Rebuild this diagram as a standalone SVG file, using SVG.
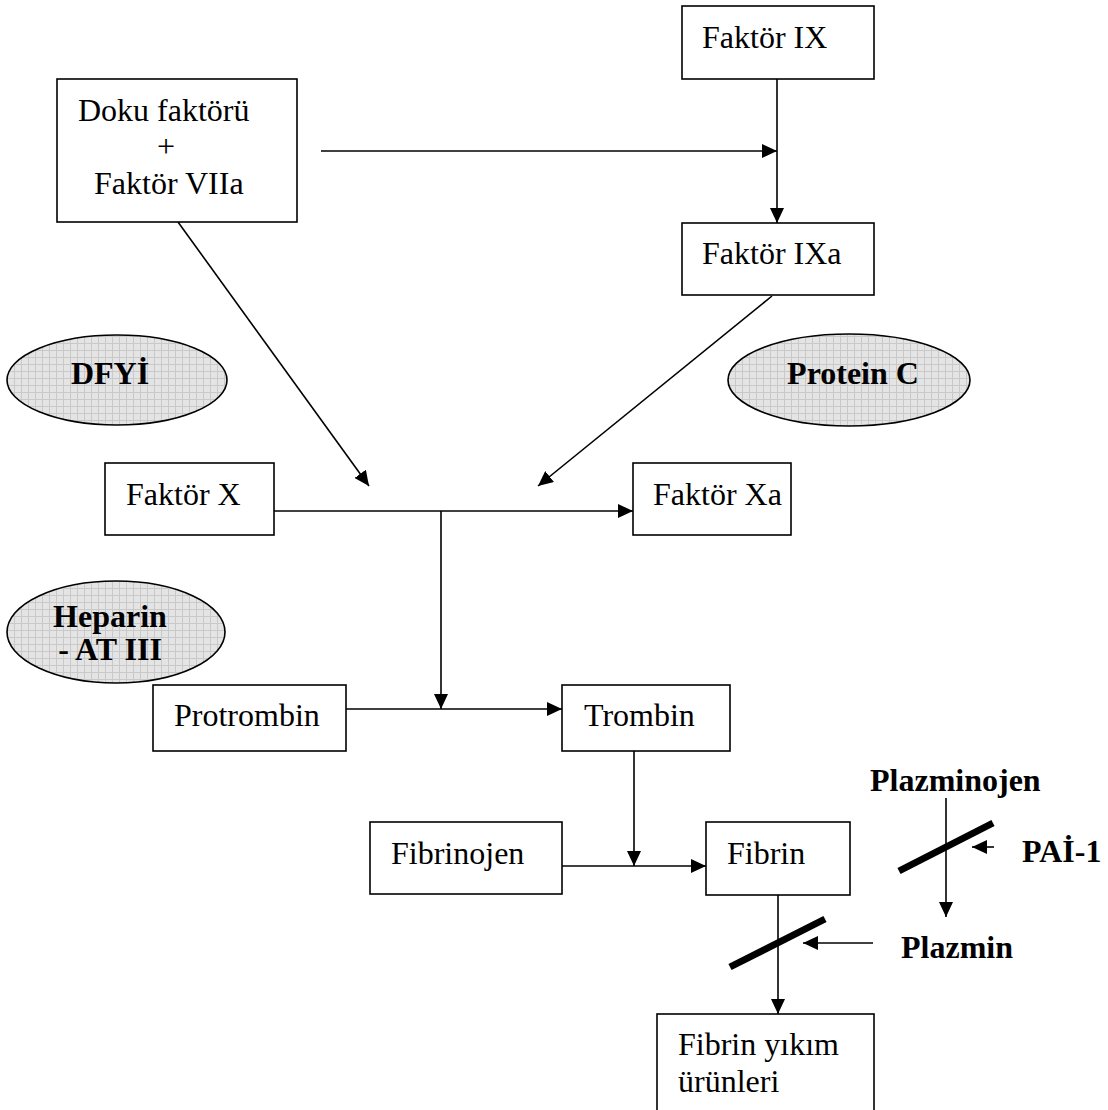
<svg xmlns="http://www.w3.org/2000/svg" width="1108" height="1110" viewBox="0 0 1108 1110">
<defs>
<pattern id="grid" width="7" height="7" patternUnits="userSpaceOnUse">
<rect width="7" height="7" fill="#e4e4e4"/>
<path d="M0,0.5 H7 M0.5,0 V7" stroke="#c9c9c9" stroke-width="1"/>
</pattern>
<marker id="ah" markerUnits="userSpaceOnUse" markerWidth="16" markerHeight="14" refX="15" refY="7" orient="auto">
<path d="M0,0 L15,7 L0,14 z" fill="#000"/>
</marker>
</defs>
<style>
.box{fill:#fff;stroke:#000;stroke-width:1.6}
.t{font-family:"Liberation Serif","Times New Roman",serif;font-size:32px;fill:#000}
.b{font-weight:bold}
.ell{fill:url(#grid);stroke:#000;stroke-width:1.6}
.arr{fill:none;stroke:#000;stroke-width:1.6;marker-end:url(#ah)}
.bar{stroke:#000;stroke-width:7}
</style>
<g id="connectors">
<line class="arr" x1="321" y1="151" x2="777" y2="151"/>
<line class="arr" x1="777" y1="79" x2="777" y2="223"/>
<line class="arr" x1="178" y1="222" x2="369" y2="486"/>
<line class="arr" x1="772" y1="296" x2="538" y2="486"/>
<line class="arr" x1="274" y1="511" x2="633" y2="511"/>
<line class="arr" x1="441" y1="511" x2="441" y2="709"/>
<line class="arr" x1="346" y1="709" x2="562" y2="709"/>
<line class="arr" x1="634" y1="751" x2="634" y2="866"/>
<line class="arr" x1="562" y1="866" x2="706" y2="866"/>
<line class="arr" x1="778" y1="895" x2="778" y2="1014"/>
<line class="bar" x1="730" y1="967" x2="825" y2="919"/>
<line class="arr" x1="873" y1="943" x2="803" y2="943"/>
<line class="arr" x1="946" y1="798" x2="946" y2="917"/>
<line class="bar" x1="899" y1="871" x2="993" y2="823"/>
<line class="arr" x1="994" y1="847" x2="972" y2="847"/>
</g>
<g id="n-faktor-ix"><rect class="box" x="682" y="6" width="192" height="73"/><text class="t" x="702" y="48">Faktör IX</text></g>
<g id="n-doku"><rect class="box" x="57" y="79" width="240" height="143"/><text class="t" x="78" y="121">Doku faktörü</text><text class="t" x="166" y="157" text-anchor="middle">+</text><text class="t" x="94" y="194">Faktör VIIa</text></g>
<g id="n-faktor-ixa"><rect class="box" x="682" y="223" width="192" height="72"/><text class="t" x="702" y="264">Faktör IXa</text></g>
<g id="n-dfyi"><ellipse class="ell" cx="117" cy="380" rx="110" ry="45"/><text class="t b" x="110" y="384" text-anchor="middle">DFYİ</text></g>
<g id="n-protein-c"><ellipse class="ell" cx="849" cy="380" rx="121" ry="46"/><text class="t b" x="853" y="384" text-anchor="middle">Protein C</text></g>
<g id="n-faktor-x"><rect class="box" x="105" y="463" width="169" height="72"/><text class="t" x="126" y="505">Faktör X</text></g>
<g id="n-faktor-xa"><rect class="box" x="633" y="463" width="158" height="72"/><text class="t" x="653" y="505">Faktör Xa</text></g>
<g id="n-heparin"><ellipse class="ell" cx="116" cy="632" rx="109" ry="51"/><text class="t b" x="110" y="627" text-anchor="middle">Heparin</text><text class="t b" x="110" y="660" text-anchor="middle">- AT III</text></g>
<g id="n-protrombin"><rect class="box" x="153" y="685" width="193" height="66"/><text class="t" x="174" y="726">Protrombin</text></g>
<g id="n-trombin"><rect class="box" x="562" y="685" width="168" height="66"/><text class="t" x="584" y="726">Trombin</text></g>
<g id="n-fibrinojen"><rect class="box" x="370" y="822" width="192" height="72"/><text class="t" x="391" y="864">Fibrinojen</text></g>
<g id="n-fibrin"><rect class="box" x="706" y="822" width="144" height="73"/><text class="t" x="727" y="864">Fibrin</text></g>
<g id="n-fyu"><rect class="box" x="657" y="1014" width="217" height="120"/><text class="t" x="678" y="1055">Fibrin yıkım</text><text class="t" x="678" y="1092">ürünleri</text></g>
<g id="n-plazminojen"><text class="t b" x="870" y="791">Plazminojen</text></g>
<g id="n-pai1"><text class="t b" x="1022" y="862">PAİ-1</text></g>
<g id="n-plazmin"><text class="t b" x="901" y="958">Plazmin</text></g>
</svg>
